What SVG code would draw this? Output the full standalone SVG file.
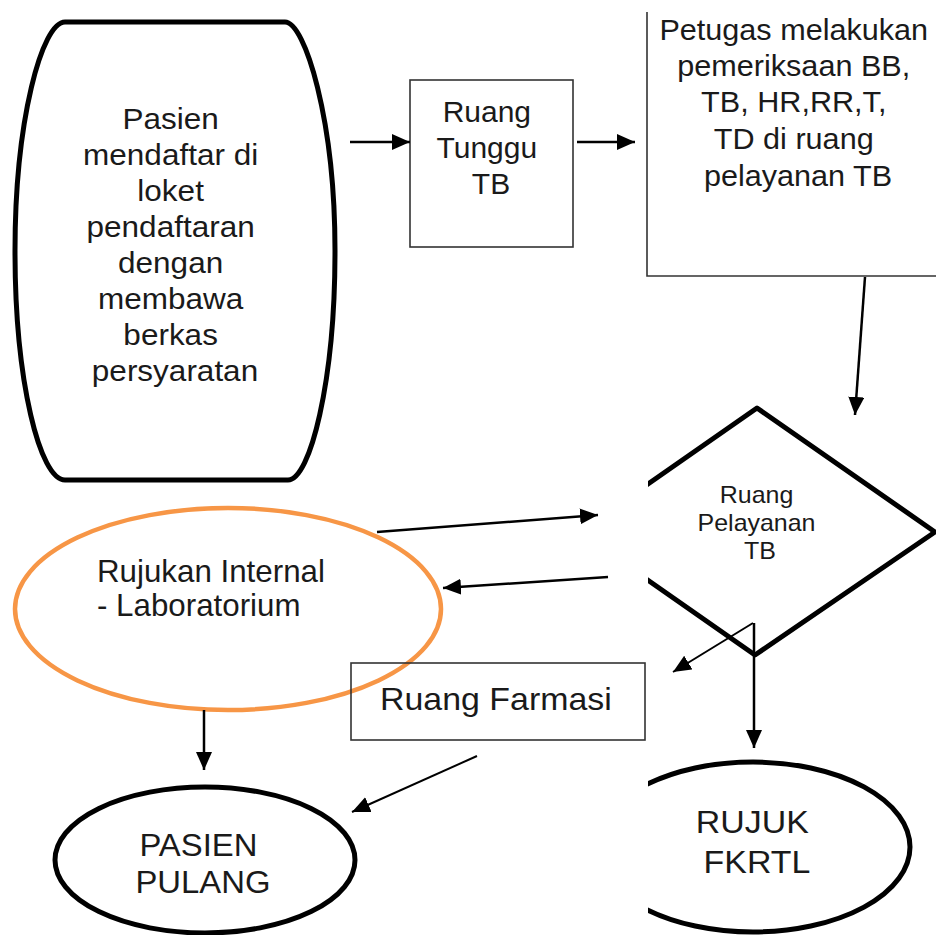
<svg xmlns="http://www.w3.org/2000/svg" width="936" height="935" viewBox="0 0 936 935">
<style>
.t{font-family:"Liberation Sans",Arial,sans-serif;fill:#1a1a1a;}
.thick{fill:none;stroke:#000;stroke-width:5;stroke-linejoin:round;}
.box{fill:none;stroke:#333;stroke-width:1.6;}
.conn{stroke:#000;stroke-width:2.5;fill:none;}
.conn2{stroke:#000;stroke-width:2;fill:none;}
</style>
<defs>
<marker id="ah" markerUnits="userSpaceOnUse" markerWidth="19" markerHeight="17" refX="18" refY="8" orient="auto">
<path d="M0,0 L18,8 L0,16 Z" fill="#000"/>
</marker>
<clipPath id="clipR"><rect x="648" y="0" width="288" height="935"/></clipPath>
</defs>
<rect width="936" height="935" fill="#fff"/>

<g id="node-pasien-daftar">
<path class="thick" d="M65,22 L285,22 C305,22 335,120 335,251 C335,382 310,480 288,480 L65,480 C40,480 15,382 15,251 C15,120 42,22 65,22 Z"/>
<text class="t" font-size="30" text-anchor="middle" transform="translate(175,0) scale(1.05,1)">
<tspan x="0" y="129">Pasien</tspan>
<tspan x="0" y="165">mendaftar di</tspan>
<tspan x="0" y="201">loket</tspan>
<tspan x="0" y="237">pendaftaran</tspan>
<tspan x="0" y="273">dengan</tspan>
<tspan x="0" y="309">membawa</tspan>
<tspan x="0" y="345">berkas</tspan>
<tspan x="0" y="381">persyaratan</tspan>
</text>
</g>

<g id="node-ruang-tunggu">
<rect class="box" x="410" y="80" width="163" height="167"/>
<text class="t" font-size="30" text-anchor="middle" transform="translate(491,0)">
<tspan x="0" y="122">Ruang</tspan>
<tspan x="0" y="158">Tunggu</tspan>
<tspan x="0" y="194">TB</tspan>
</text>
</g>

<g id="node-petugas">
<path class="box" d="M647,12 V276 H936"/>
<text class="t" font-size="30" text-anchor="middle" transform="translate(798,0) scale(1.02,1)">
<tspan x="0" y="40">Petugas melakukan</tspan>
<tspan x="0" y="76">pemeriksaan BB,</tspan>
<tspan x="0" y="112">TB, HR,RR,T,</tspan>
<tspan x="0" y="149">TD di ruang</tspan>
<tspan x="0" y="186">pelayanan TB</tspan>
</text>
</g>

<g id="node-ruang-pelayanan">
<polygon class="thick" clip-path="url(#clipR)" points="757,408 935,532 755,655 579,532"/>
<text class="t" font-size="24" text-anchor="middle" transform="translate(760,0) scale(1.04,1)">
<tspan x="0" y="503">Ruang</tspan>
<tspan x="0" y="531">Pelayanan</tspan>
<tspan x="0" y="559">TB</tspan>
</text>
</g>

<g id="node-rujukan-internal">
<ellipse cx="228" cy="609" rx="213" ry="101" fill="none" stroke="#F79646" stroke-width="4.5"/>
<text class="t" font-size="31" transform="translate(97,0) scale(1.01,1)">
<tspan x="0" y="582">Rujukan Internal</tspan>
<tspan x="0" y="616">- Laboratorium</tspan>
</text>
</g>

<g id="node-farmasi">
<rect class="box" x="351" y="663" width="294" height="77"/>
<text class="t" font-size="32" transform="translate(380,0) scale(1.06,1)">
<tspan x="0" y="710">Ruang Farmasi</tspan>
</text>
</g>

<g id="node-pasien-pulang">
<ellipse class="thick" cx="205" cy="860" rx="150" ry="73"/>
<text class="t" font-size="31" text-anchor="middle" transform="translate(203,0) scale(1.06,1)">
<tspan x="0" y="856">PASIEN</tspan>
<tspan x="0" y="893">PULANG</tspan>
</text>
</g>

<g id="node-rujuk-fkrtl">
<ellipse class="thick" clip-path="url(#clipR)" cx="753" cy="847" rx="157" ry="85"/>
<text class="t" font-size="32" text-anchor="middle" transform="translate(757,0) scale(1.06,1)">
<tspan x="0" y="833">RUJUK</tspan>
<tspan x="0" y="873">FKRTL</tspan>
</text>
</g>

<g id="connectors">
<line class="conn" x1="350" y1="142" x2="410" y2="142" marker-end="url(#ah)"/>
<line class="conn" x1="577" y1="142" x2="635" y2="142" marker-end="url(#ah)"/>
<line class="conn" x1="865" y1="277" x2="855" y2="415" marker-end="url(#ah)"/>
<line class="conn" x1="377" y1="532" x2="598" y2="515" marker-end="url(#ah)"/>
<line class="conn" x1="608" y1="577" x2="443" y2="588" marker-end="url(#ah)"/>
<line class="conn2" x1="753" y1="623" x2="673" y2="672" marker-end="url(#ah)"/>
<line class="conn" x1="754" y1="623" x2="754" y2="748" marker-end="url(#ah)"/>
<line class="conn" x1="204" y1="710" x2="204" y2="770" marker-end="url(#ah)"/>
<line class="conn2" x1="477" y1="756" x2="352" y2="812" marker-end="url(#ah)"/>
</g>
</svg>
